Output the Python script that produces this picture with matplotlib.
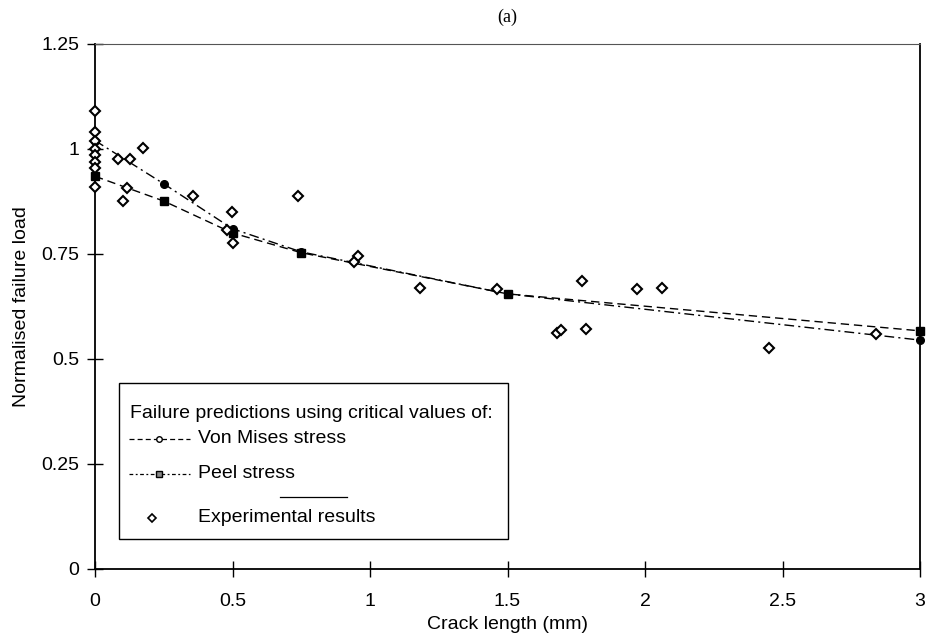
import matplotlib
matplotlib.use('Agg')
import matplotlib.pyplot as plt
from matplotlib.lines import Line2D
from matplotlib.patches import Rectangle

# crack lengths where the FE predictions were evaluated
crack_pred = [0, 0.25, 0.5, 0.75, 1.5, 3]
von_mises = [1.02, 0.917, 0.81, 0.755, 0.655, 0.545]
peel = [0.935, 0.876, 0.80, 0.753, 0.655, 0.567]

# experimental results
exp_x = [0, 0, 0, 0, 0, 0, 0, 0,
         0.085, 0.127, 0.176, 0.115, 0.103, 0.355, 0.497, 0.479, 0.5,
         0.739, 0.957, 0.94, 1.18, 1.461, 1.77, 1.972, 2.063,
         1.679, 1.693, 1.785, 2.452, 2.84]
exp_y = [1.09, 1.04, 1.02, 1.0, 0.985, 0.97, 0.955, 0.91,
         0.976, 0.976, 1.002, 0.906, 0.877, 0.888, 0.851, 0.807, 0.777,
         0.888, 0.745, 0.732, 0.669, 0.666, 0.686, 0.666, 0.668,
         0.563, 0.569, 0.571, 0.525, 0.559]

xticks = [0, 0.5, 1, 1.5, 2, 2.5, 3]
xticklabels = ['0', '0.5', '1', '1.5', '2', '2.5', '3']
yticks = [0, 0.25, 0.5, 0.75, 1, 1.25]
yticklabels = ['0', '0.25', '0.5', '0.75', '1', '1.25']

legend_title = 'Failure predictions using critical values of:'
legend_labels = ['Von Mises stress', 'Peel stress', 'Experimental results']

plt.rcParams['font.family'] = ['Liberation Sans', 'DejaVu Sans']

fig = plt.figure(figsize=(9.28, 6.44), dpi=100)
ax = fig.add_axes([0.1024, 0.1165, 0.889, 0.8152])

ax.plot(crack_pred, von_mises, color='black', lw=1.0,
        dashes=(7, 3, 1.5, 3), marker='o', ms=5.5,
        markerfacecolor='black', markeredgecolor='black',
        clip_on=False, zorder=3)
ax.plot(crack_pred, peel, color='black', lw=1.0,
        dashes=(6, 3.5), marker='s', ms=5.5,
        markerfacecolor='black', markeredgecolor='black',
        clip_on=False, zorder=3)
ax.plot(exp_x, exp_y, linestyle='none', marker='D', ms=5.5,
        markerfacecolor='white', markeredgecolor='black',
        markeredgewidth=1.5, clip_on=False, zorder=4)

ax.set_xlim(0, 3)
ax.set_ylim(0, 1.25)
ax.set_xticks(xticks)
ax.set_xticklabels(xticklabels)
ax.set_yticks(yticks)
ax.set_yticklabels(yticklabels)
ax.tick_params(direction='inout', length=11, width=1.0, labelsize=14)
ax.tick_params(axis='y', pad=6)
ax.tick_params(axis='x', pad=12)
for side in ['left', 'bottom', 'right']:
    ax.spines[side].set_linewidth(1.3)
ax.spines['top'].set_linewidth(0.8)
ax.spines['top'].set_color('#555555')

ax.set_xlabel('Crack length (mm)', fontsize=14, labelpad=4)
ax.set_ylabel('Normalised failure load', fontsize=14, labelpad=8)
ax.set_title('(a)', fontsize=13, family='Liberation Serif', pad=16)

# ---- legend box, laid out by hand to copy the uneven Excel spacing ----
T = ax.transAxes
ax.add_patch(Rectangle((0.029, 0.057), 0.472, 0.297, transform=T,
                       facecolor='white', edgecolor='black', lw=1.0,
                       zorder=5))
ax.text(0.0424, 0.297, legend_title, transform=T, fontsize=14,
        va='center', ha='left', zorder=6)

rows_y = [0.2476, 0.181, 0.0971]
hx0, hx1, tx = 0.0412, 0.1152, 0.1248
mx = 0.0775
# Von Mises handle
ax.add_line(Line2D([hx0, hx1], [rows_y[0]] * 2, color='black', lw=0.9,
                   dashes=(4, 2.5), transform=T, zorder=6))
ax.add_line(Line2D([mx], [rows_y[0]], marker='o', ms=4, linestyle='none',
                   markerfacecolor='white', markeredgecolor='black',
                   transform=T, zorder=7))
# Peel handle
ax.add_line(Line2D([hx0, hx1], [rows_y[1]] * 2, color='black', lw=0.9,
                   dashes=(3, 2, 1.5, 2), transform=T, zorder=6))
ax.add_line(Line2D([mx], [rows_y[1]], marker='s', ms=4, linestyle='none',
                   markerfacecolor='#888888', markeredgecolor='black',
                   transform=T, zorder=7))
# Experimental handle
ax.add_line(Line2D([0.0691], [rows_y[2]], marker='D', ms=4,
                   linestyle='none', markerfacecolor='white',
                   markeredgecolor='black', markeredgewidth=1.2,
                   transform=T, zorder=7))
for y, lab in zip(rows_y, legend_labels):
    ax.text(tx, y, lab, transform=T, fontsize=14, va='center', ha='left',
            zorder=6)

# stray short rule above the last legend entry in the original
ax.add_line(Line2D([0.224, 0.305], [0.137, 0.137], color='black', lw=0.9,
                   transform=T, zorder=6))

fig.savefig('out.png', dpi=100, facecolor='white')
